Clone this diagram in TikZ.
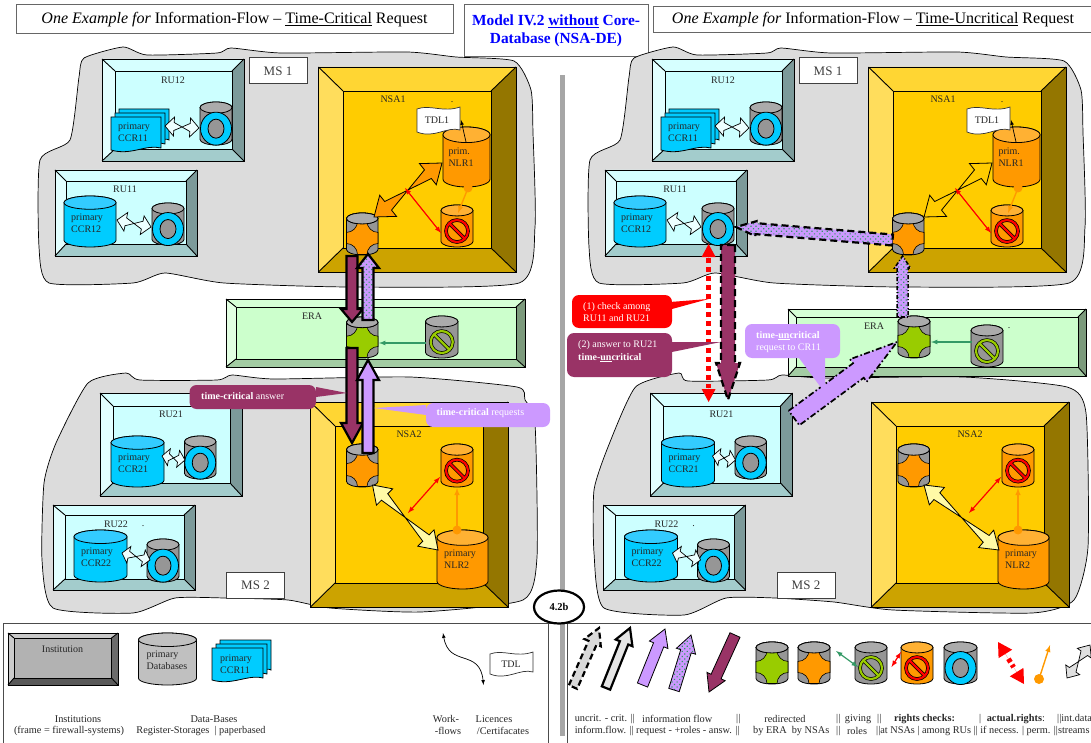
\documentclass[tikz,border=0pt]{standalone}
\usepackage{fontspec}
\setmainfont{Liberation Serif}
\usetikzlibrary{calc,patterns,patterns.meta,shapes.geometric}

\definecolor{ruC}{HTML}{CCFFFF}\definecolor{ruT}{HTML}{D6FFFF}\definecolor{ruL}{HTML}{E2FFFF}
\definecolor{ruR}{HTML}{7C9A9A}\definecolor{ruB}{HTML}{A3CCCC}
\definecolor{nsaC}{HTML}{FFCC00}\definecolor{nsaT}{HTML}{FFD633}\definecolor{nsaL}{HTML}{FFDD5C}
\definecolor{nsaR}{HTML}{947600}\definecolor{nsaB}{HTML}{CCA300}
\definecolor{eraC}{HTML}{CCFFCC}\definecolor{eraT}{HTML}{D6FFD6}\definecolor{eraL}{HTML}{E2FFE2}
\definecolor{eraR}{HTML}{7C9A7C}\definecolor{eraB}{HTML}{A3CCA3}
\definecolor{instC}{HTML}{B2B2B2}\definecolor{instT}{HTML}{C9C9C9}\definecolor{instL}{HTML}{CCCCCC}
\definecolor{instR}{HTML}{6B6B6B}\definecolor{instB}{HTML}{595959}
\definecolor{cylgrey}{HTML}{969696}\definecolor{cyltop}{HTML}{ABABAB}\definecolor{dbgrey}{HTML}{C0C0C0}
\definecolor{ccrblue}{HTML}{00CCFF}\definecolor{ccrtop}{HTML}{33CCFF}
\definecolor{nlrorange}{HTML}{FF9900}\definecolor{nlrtop}{HTML}{FFB133}
\definecolor{eragreen}{HTML}{99CC00}\definecolor{maroon}{HTML}{993366}\definecolor{lilac}{HTML}{CC99FF}
\definecolor{chkgreen}{HTML}{339966}\definecolor{blobgrey}{HTML}{DCDCDC}\definecolor{barsilver}{HTML}{A6A6A6}

\tikzset{
  >=latex,
  blobfill/.style={fill=blobgrey,draw=black,line width=.7pt},
  txtlab/.style={font=\fontsize{10}{11.5}\selectfont,align=left,inner sep=0pt,text=black!85},
  whitetxt/.style={font=\fontsize{10}{12.5}\selectfont,align=left,inner sep=0pt,text=white,anchor=west},
  legtxt/.style={font=\fontsize{10.3}{12}\selectfont,inner sep=0pt,text=black!85,anchor=west},
  msbox/.style={draw=black!75,fill=white,line width=1pt,minimum width=58pt,minimum height=26pt,inner sep=0pt,font=\fontsize{13}{15}\selectfont,text=black!75},
  titlebox/.style={draw=black!60,fill=white,line width=1pt,inner sep=0pt,font=\fontsize{16}{18}\selectfont},
  whitearrow/.style={fill=ruC!35!white,draw=black,line width=.7pt},
  nlrarrow/.style={fill=nlrorange,draw=black,line width=.8pt},
  hollowarrow/.style={fill=nsaC,draw=black,line width=.8pt},
  paleyellow/.style={fill=yellow!35!white,draw=black,line width=.8pt},
  maroonflow/.style={fill=maroon,draw=black,line width=2.2pt},
  lilacflow/.style={fill=lilac,draw=black,line width=2.2pt},
  checkfill/.style={preaction={fill=lilac},pattern={Dots[angle=45,distance=3.6pt,radius=.85pt]},pattern color=chkgreen},
  checkflow/.style={checkfill,draw=black,line width=2.2pt},
  dashblack/.style={line width=2.2pt,draw=black,dash pattern=on 7pt off 4pt},
  dotred/.style={draw=red,line width=5pt,dash pattern=on 5pt off 4pt},
  redtip/.style={fill=red,draw=none},
  rightsred/.style={<->,red,line width=1.2pt},
  rightsgreen/.style={<-,chkgreen,line width=1.2pt},
  permorange/.style={-latex,nlrorange,line width=1.4pt},
}

\newcommand{\bevelframe}[9]{%
  \fill[#1T] (#2,#3) -- (#4,#3) -- (#8,#7) -- (#6,#7) -- cycle;
  \fill[#1L] (#2,#3) -- (#6,#7) -- (#6,#9) -- (#2,#5) -- cycle;
  \fill[#1R] (#4,#3) -- (#8,#7) -- (#8,#9) -- (#4,#5) -- cycle;
  \fill[#1B] (#2,#5) -- (#6,#9) -- (#8,#9) -- (#4,#5) -- cycle;
  \draw[line width=.9pt,fill=#1C] (#6,#7) rectangle (#8,#9);
  \draw[line width=.9pt] (#2,#3) rectangle (#4,#5);
  \draw[line width=.9pt] (#2,#3) -- (#6,#7) (#4,#3) -- (#8,#7) (#2,#5) -- (#6,#9) (#4,#5) -- (#8,#9);
}
\newcommand{\cyltopdisc}[5]{%
  \pgfmathsetmacro{\crx}{(#4-#2)/2}
  \pgfmathsetmacro{\cry}{0.13*(#5-#3)}
  \draw[line width=.8pt,fill=#1] (#2+\crx,#3+\cry) ellipse (\crx pt and \cry pt);
}
\newcommand{\dbcyl}[6]{%
  \pgfmathsetmacro{\crx}{(#5-#3)/2}
  \pgfmathsetmacro{\cry}{0.13*(#6-#4)}
  \draw[line width=.8pt,fill=#1] (#3,#4+\cry) -- (#3,#6-\cry) arc (180:360:\crx pt and \cry pt) -- (#5,#4+\cry) arc (0:180:\crx pt and \cry pt) -- cycle;
  \cyltopdisc{#2}{#3}{#4}{#5}{#6}
}
\newcommand{\routercyl}[5]{%
  \dbcyl{cylgrey}{cyltop}{#2}{#3}{#4}{#5}
  \pgfmathsetmacro{\cyt}{#3+0.2*(#5-#3)}
  \pgfmathsetmacro{\cyb}{#5-.5}
  \draw[line width=.6pt,fill=#1] (#2+11,\cyt) -- (#4-11,\cyt) .. controls (#4-11,\cyt+6) and (#4-6,\cyt+11) .. (#4,\cyt+11) -- (#4,\cyb-11) .. controls (#4-6,\cyb-11) and (#4-11,\cyb-6) .. (#4-11,\cyb) -- (#2+11,\cyb) .. controls (#2+11,\cyb-6) and (#2+6,\cyb-11) .. (#2,\cyb-11) -- (#2,\cyt+11) .. controls (#2+6,\cyt+11) and (#2+11,\cyt+6) .. (#2+11,\cyt) -- cycle;
  \cyltopdisc{cyltop}{#2}{#3}{#4}{#5}
}
\newcommand{\ringcyl}[4]{%
  \dbcyl{cylgrey}{cyltop}{#1}{#2}{#3}{#4}
  \pgfmathsetmacro{\cym}{#2+0.62*(#4-#2)}
  \pgfmathsetmacro{\ccx}{(#1+#3)/2}
  \draw[line width=.8pt,fill=ccrblue] (\ccx,\cym) ellipse (15.5pt and 16.5pt);
  \draw[line width=.8pt,fill=cylgrey] (\ccx,\cym) ellipse (8pt and 9.5pt);
}
\newcommand{\stopcyl}[7]{%
  \dbcyl{#2}{#3}{#4}{#5}{#6}{#7}
  \pgfmathsetmacro{\cym}{#5+0.62*(#7-#5)}
  \pgfmathsetmacro{\ccx}{(#4+#6)/2}
  \draw[black,line width=3.6pt] (\ccx,\cym) circle (11pt) (\ccx-8,\cym-8) -- (\ccx+8,\cym+8);
  \draw[#1,line width=2.2pt] (\ccx,\cym) circle (11pt) (\ccx-8,\cym-8) -- (\ccx+8,\cym+8);
}
\newcommand{\ccrpage}[4]{%
  \pgfmathsetmacro{\tw}{#3-#1}
  \draw[line width=.8pt,fill=ccrblue] (#1,#2) -- (#3,#2) -- (#3,#4-5) .. controls (#1+.7*\tw,#4-9) and (#1+.4*\tw,#4+3) .. (#1,#4-3) -- cycle;
}
\newcommand{\ccrstack}[4]{%
  \ccrpage{#1+8}{#2-8}{#3+8}{#4-8}
  \ccrpage{#1+4}{#2-4}{#3+4}{#4-4}
  \ccrpage{#1}{#2}{#3}{#4}
}
\newcommand{\tdlflag}[4]{%
  \pgfmathsetmacro{\tw}{#3-#1}
  \draw[draw=black!80,line width=.7pt,fill=white] (#1,#2+3) .. controls (#1+.3*\tw,#2-2) and (#1+.6*\tw,#2+7) .. (#3,#2+1) -- (#3,#4-5) .. controls (#3-.3*\tw,#4-9) and (#3-.6*\tw,#4+4) .. (#1,#4-3) -- cycle;
}
\newcommand{\flowarrow}[6][]{%
  \path (#2) coordinate (fa-s) (#3) coordinate (fa-t) ($(fa-t)!#6pt!(fa-s)$) coordinate (fa-h);
  \draw[#1] ($(fa-s)!#4pt!90:(fa-t)$) -- ($(fa-h)!#4pt!90:(fa-t)$) -- ($(fa-h)!#5pt!90:(fa-t)$) -- (fa-t) -- ($(fa-h)!#5pt!-90:(fa-t)$) -- ($(fa-h)!#4pt!-90:(fa-t)$) -- ($(fa-s)!#4pt!-90:(fa-t)$) -- cycle;
}
\newcommand{\bothflowarrow}[6][]{%
  \path (#2) coordinate (fa-s) (#3) coordinate (fa-t) ($(fa-t)!#6pt!(fa-s)$) coordinate (fa-h) ($(fa-s)!#6pt!(fa-t)$) coordinate (fa-k);
  \draw[#1] (fa-s) -- ($(fa-k)!#5pt!-90:(fa-t)$) -- ($(fa-k)!#4pt!-90:(fa-t)$) -- ($(fa-h)!#4pt!90:(fa-t)$) -- ($(fa-h)!#5pt!90:(fa-t)$) -- (fa-t) -- ($(fa-h)!#5pt!-90:(fa-t)$) -- ($(fa-h)!#4pt!-90:(fa-t)$) -- ($(fa-k)!#4pt!90:(fa-t)$) -- ($(fa-k)!#5pt!90:(fa-t)$) -- cycle;
}
\newcommand{\calloutbox}[8]{%
  \fill[#1,rounded corners=7pt] (#2,#3) rectangle (#4,#5);
  \fill[#1] (#6) -- (#8) -- (#7) -- cycle;
}

% upper member state: style of NSA arrow, x of the router
\newcommand{\msonepanel}[2]{%
  \draw[blobfill] plot[smooth cycle,tension=.35] coordinates {(39,247) (40,160) (70,140) (79,77) (84,58) (123,47) (147,55) (217,53) (231,48) (281,53) (407,52) (456,57) (514,61) (531,90) (533,133) (535,227) (519,283) (351,287) (224,283) (165,273) (133,283) (49,283)};
  \bevelframe{ru}{102}{59}{244}{161}{115}{71}{232}{149}
  \node[txtlab] (runame12) at (173,80) {RU12};
  \ccrstack{111}{117}{161}{153}
  \node[txtlab] (ccr11) at (134,132) {primary\\CCR11};
  \ringcyl{200}{102}{232}{145}
  \coordinate (ccr11r) at (165,126);
  \coordinate (ring12l) at (199,128);
  \bothflowarrow[whitearrow]{ccr11r}{ring12l}{4}{9.5}{9}
  \node[msbox] (ms1) at (278,71) {MS 1};
  \bevelframe{ru}{55}{170}{197}{256}{66}{181}{186}{244}
  \node[txtlab] (runame11) at (125,189) {RU11};
  \dbcyl{ccrblue}{ccrtop}{64}{196}{116}{247}
  \node[txtlab] (ccr12) at (87,223) {primary\\CCR12};
  \ringcyl{152}{203}{184}{245}
  \coordinate (ccr12r) at (117,220);
  \coordinate (ring11l) at (151,227);
  \bothflowarrow[whitearrow]{ccr12r}{ring11l}{4}{9.5}{9}
  \bevelframe{nsa}{318.5}{67}{516}{272}{343}{91}{491}{248}
  \node[txtlab] (nsa1) at (393,99) {NSA1};
  \dbcyl{nlrorange}{nlrtop}{443}{127}{490}{187}
  \node[txtlab] (nlr1) at (461,157) {prim.\\NLR1};
  \tdlflag{417}{106}{460}{135}
  \node[txtlab] (tdl1) at (437,120) {TDL1};
  \node[txtlab] (tdldot) at (452,102) {.};
  \coordinate (nlr1t) at (466,142);
  \coordinate (tdl1b) at (461,120);
  \draw[->,line width=.7pt] (nlr1t) -- (tdl1b);
  \routercyl{nlrorange}{#2}{213}{#2+31.5}{255}
  \stopcyl{red}{nlrorange}{nlrtop}{441}{205}{473}{247}
  \coordinate (nlr1l) at (442,163);
  \coordinate (rout1r) at (374,217);
  \bothflowarrow[#1]{rout1r}{nlr1l}{5.5}{13.5}{18}
  \coordinate (rightsa) at (405,188);
  \coordinate (rightsb) at (441,233);
  \draw[rightsred] (rightsa) -- (rightsb);
  \coordinate (permda) at (468,188);
  \coordinate (permdb) at (458,213);
  \fill[nlrorange] (permda) circle (4.5pt);
  \draw[permorange] (permda) -- (permdb);
}
% the two RUs of the lower member state
\newcommand{\rutwopanel}{%
  \bevelframe{ru}{100}{393}{242}{496}{113}{406}{230}{483}
  \node[txtlab] (runame21) at (171,414) {RU21};
  \dbcyl{ccrblue}{ccrtop}{111}{436}{164}{487}
  \node[txtlab] (ccr21) at (134,463) {primary\\CCR21};
  \ringcyl{184.5}{436}{216}{479}
  \coordinate (ccr21r) at (162,456);
  \coordinate (ring21l) at (185,460);
  \bothflowarrow[whitearrow]{ccr21r}{ring21l}{3.5}{8.5}{7}
  \bevelframe{ru}{53}{505}{195}{590}{65}{515}{184}{579}
  \node[txtlab] (runame22) at (116,524) {RU22};
  \node[txtlab] (rudot) at (143,526) {.};
  \dbcyl{ccrblue}{ccrtop}{74}{530}{127}{582}
  \node[txtlab] (ccr22) at (97,557) {primary\\CCR22};
  \ringcyl{147}{539}{179}{582}
  \coordinate (ccr22r) at (122,553);
  \coordinate (ring22l) at (150,560);
  \bothflowarrow[whitearrow]{ccr22r}{ring22l}{3.5}{8.5}{7}
  \node[msbox] (ms2) at (255.5,585.5) {MS 2};
}
% NSA2: x of the router
\newcommand{\nsatwopanel}[1]{%
  \bevelframe{nsa}{310.5}{402}{508}{607}{335}{426}{483}{583}
  \node[txtlab] (nsa2) at (409,434) {NSA2};
  \routercyl{nlrorange}{#1}{444}{#1+31.5}{487}
  \stopcyl{red}{nlrorange}{nlrtop}{441}{444}{473}{487}
  \dbcyl{nlrorange}{nlrtop}{437}{530}{488}{589}
  \node[txtlab] (nlr2) at (460,559) {primary\\NLR2};
  \coordinate (rout2r) at (#1+26,485);
  \coordinate (nlr2l) at (438,550);
  \bothflowarrow[paleyellow]{rout2r}{nlr2l}{4.5}{11.5}{17}
  \coordinate (rights2a) at (440,477);
  \coordinate (rights2b) at (408,513);
  \draw[rightsred] (rights2a) -- (rights2b);
  \coordinate (perm2a) at (457,530);
  \coordinate (perm2b) at (457,488);
  \fill[nlrorange] (perm2a) circle (4.5pt);
  \draw[permorange] (perm2a) -- (perm2b);
}

\begin{document}
\begin{tikzpicture}[x=1pt,y=-1pt]
  \useasboundingbox (0,0) rectangle (1091,743);

  % titles
  \node[titlebox,minimum width=437pt,minimum height=29pt] (titleleft) at (234.5,19.5) {\textit{One Example for} Information-Flow -- \underline{Time-Critical} Request};
  \node[titlebox,minimum width=184pt,minimum height=52pt,align=center,text=blue,font=\bfseries\fontsize{15.4}{18}\selectfont] (titlemid) at (556,31) {Model IV.2 \underline{without} Core-\\Database (NSA-DE)};
  \node[titlebox,minimum width=440pt,minimum height=26pt] (titleright) at (873,20) {\textit{One Example for} Information-Flow -- \underline{Time-Uncritical} Request};

  % divider, legend frame
  \draw[black!70,line width=.8pt] (3,743) -- (3,623) -- (1091,623);
  \draw[black!70,line width=.8pt] (548,623) -- (548,743);
  \draw[black!70,line width=.8pt] (567.6,623) -- (567.6,743);
  \fill[barsilver] (559.6,75) rectangle (565,736);

  % left panel
  \msonepanel{nlrarrow}{346.5}
  \draw[blobfill] plot[smooth cycle,tension=.35] coordinates {(88,383) (126,373) (140,380) (217,380) (232,375) (274,379) (410,377) (517,387) (525,400) (535,423) (537,557) (523,600) (421,612) (330,608) (288,600) (225,598) (175,598) (133,613) (53,608) (42,560) (44,483) (56,443)};
  \rutwopanel
  \nsatwopanel{346.5}
  \bevelframe{era}{226}{299}{525}{367}{236}{307}{516}{359}
  \node[txtlab] (era) at (312,316) {ERA};
  \routercyl{eragreen}{346.5}{317}{378}{358}
  \stopcyl{eragreen}{cylgrey}{cyltop}{425.5}{316}{458}{358}
  \coordinate (erastopl) at (426,343);
  \coordinate (erarouter) at (379,343);
  \draw[rightsgreen] (erarouter) -- (erastopl);

  \coordinate (ans1a) at (352,256);
  \coordinate (ans1b) at (352,322);
  \flowarrow[maroonflow]{ans1a}{ans1b}{5.5}{11}{13}
  \coordinate (req1a) at (368,320);
  \coordinate (req1b) at (368,254);
  \flowarrow[checkflow]{req1a}{req1b}{5.5}{11}{14}
  \coordinate (ans2a) at (352,348);
  \coordinate (ans2b) at (352,443);
  \flowarrow[maroonflow]{ans2a}{ans2b}{5.5}{11}{20}
  \coordinate (req2a) at (368,453);
  \coordinate (req2b) at (368,360);
  \flowarrow[lilacflow]{req2a}{req2b}{5.5}{11}{20}

  \calloutbox{maroon}{189.5}{385}{316}{409}{316,387}{316,397}{347,393}
  \node[whitetxt] (critanswer) at (201,396) {\textbf{time-critical} answer};
  \calloutbox{lilac}{426}{403}{550}{427}{426,405}{426,415}{374,408}
  \node[whitetxt] (critrequest) at (436.5,413) {\textbf{time-critical} requests};

  % right panel
  \begin{scope}[xshift=550pt,name prefix=r-]
    \msonepanel{hollowarrow}{342.5}
  \end{scope}
  \draw[blobfill] plot[smooth cycle,tension=.35] coordinates {(635.5,387) (679,373) (688,381) (768,380) (782,375) (823.5,378) (963,377) (1067,387) (1086,413) (1088,547) (1074,600) (1032,613) (893,610) (834,602) (775,598) (726,598) (684,615) (604,608) (594,553) (594,490) (608,447)};
  \begin{scope}[xshift=550.5pt,name prefix=q-]
    \rutwopanel
  \end{scope}
  \begin{scope}[xshift=561pt,name prefix=p-]
    \nsatwopanel{337}
  \end{scope}
  \bevelframe{era}{788}{309}{1086}{376}{796}{317}{1078}{367}
  \node[txtlab] (era2) at (874,326) {ERA};
  \node[txtlab] (eradot) at (1009,328) {.};
  \routercyl{eragreen}{898}{316}{930}{358}
  \stopcyl{eragreen}{cylgrey}{cyltop}{971}{325}{1003}{367}
  \coordinate (erastopr) at (971.5,342);
  \coordinate (era2router) at (931,342);
  \draw[rightsgreen] (era2router) -- (erastopr);

  \coordinate (hora) at (892.5,240);
  \coordinate (horb) at (736,227);
  \flowarrow[checkfill,draw=none]{hora}{horb}{5.5}{7.5}{20}
  \flowarrow[dashblack]{hora}{horb}{5.5}{7.5}{20}
  \coordinate (vera) at (902.6,317);
  \coordinate (verb) at (902.6,256);
  \flowarrow[checkfill,draw=none]{vera}{verb}{5.5}{8}{12}
  \flowarrow[dashblack,dash pattern=on 4pt off 2pt on 1pt off 2pt,line width=1.6pt]{vera}{verb}{5.5}{8}{12}

  \coordinate (checka) at (708.6,258);
  \coordinate (checkb) at (708.6,388);
  \draw[dotred] (checka) -- (checkb);
  \coordinate (checkta) at (708.6,244);
  \coordinate (checktb) at (708.6,402);
  \flowarrow[redtip]{checka}{checkta}{0}{7}{13}
  \flowarrow[redtip]{checkb}{checktb}{0}{7}{13}
  \coordinate (answa) at (728,245);
  \coordinate (answb) at (728,400);
  \flowarrow[fill=maroon,draw=none]{answa}{answb}{7}{12}{37}
  \flowarrow[dashblack]{answa}{answb}{7}{12}{37}
  \coordinate (tcra) at (794,418);
  \coordinate (tcrb) at (897,342);
  \flowarrow[fill=lilac,draw=none]{tcra}{tcrb}{9}{14}{48}
  \flowarrow[dashblack,dash pattern=on 6pt off 2.5pt on 1.5pt off 2.5pt,line width=1.7pt]{tcra}{tcrb}{9}{14}{48}

  \calloutbox{red}{572}{295}{672}{328}{670,302}{672,309}{708.6,299}
  \node[whitetxt] (checkamong) at (583,312) {(1) check among\\RU11 and RU21};
  \calloutbox{maroon}{567}{333}{672}{377}{670,342}{672,352}{721,342}
  \node[whitetxt] (answerru) at (578,351.5) {(2) answer to RU21\\\textbf{time-\underline{un}critical}};
  \calloutbox{lilac}{745}{324}{840}{358}{799,358}{825,358}{825,393}
  \node[whitetxt] (uncritreq) at (756,342) {\textbf{time-\underline{un}critical}\\request to CR11};

  % legend
  \bevelframe{inst}{8}{633}{118}{685}{14}{638}{111.5}{678}
  \node[txtlab] (instname) at (62.5,649) {Institution};
  \dbcyl{dbgrey}{dbgrey}{138.5}{633}{196.5}{685}
  \node[txtlab] (dbname) at (167,660) {primary\\Databases};
  \ccrstack{212}{648}{263}{683}
  \node[txtlab] (ccrname) at (236,664) {primary\\CCR11};
  \coordinate (flowa) at (443,633);
  \coordinate (flowb) at (483.5,685);
  \draw[<->,line width=.7pt] (flowa) .. controls (449,668) and (480,648) .. (flowb);
  \tdlflag{490}{651}{533}{677}
  \node[txtlab] (tdlname) at (511,664) {TDL};

  \node[legtxt,anchor=center] (ltinst) at (78,719) {Institutions};
  \node[legtxt,anchor=center] (ltframe) at (69,731) {(frame = firewall-systems)};
  \node[legtxt,anchor=center] (ltdata) at (214,719) {Data-Bases};
  \node[legtxt,anchor=center] (ltreg) at (201,731) {Register-Storages~~| paperbased};
  \node[legtxt,anchor=center] (ltwork) at (446,719) {Work-};
  \node[legtxt,anchor=center] (ltflows) at (448,731) {-flows};
  \node[legtxt,anchor=center] (ltlic) at (494,719) {Licences};
  \node[legtxt,anchor=center] (ltcert) at (503,731) {/Certifacates};

  \coordinate (leg1a) at (573,687);
  \coordinate (leg1b) at (599,628);
  \flowarrow[fill=black!15,draw=none]{leg1a}{leg1b}{4.5}{9}{16}
  \flowarrow[dashblack,dash pattern=on 6pt off 3.5pt]{leg1a}{leg1b}{4.5}{9}{16}
  \coordinate (leg2a) at (606,688);
  \coordinate (leg2b) at (630,628);
  \flowarrow[fill=black!10,draw=black,line width=2.2pt]{leg2a}{leg2b}{4.5}{9}{16}
  \coordinate (leg3a) at (642.5,685);
  \coordinate (leg3b) at (665,629);
  \flowarrow[fill=lilac,draw=black,line width=.8pt]{leg3a}{leg3b}{5.5}{10}{17}
  \coordinate (leg4a) at (674,690);
  \coordinate (leg4b) at (691,635);
  \flowarrow[checkflow,line width=.8pt]{leg4a}{leg4b}{5.5}{10}{17}
  \coordinate (leg5a) at (735,635);
  \coordinate (leg5b) at (709,692);
  \flowarrow[fill=maroon,draw=black,line width=.8pt]{leg5a}{leg5b}{5.5}{10}{17}

  \routercyl{eragreen}{756}{642}{788}{684}
  \routercyl{nlrorange}{798}{642}{830}{684}
  \stopcyl{eragreen}{cylgrey}{cyltop}{855}{642}{887}{684}
  \stopcyl{red}{nlrorange}{nlrtop}{901}{642}{933}{684}
  \ringcyl{944}{642}{977}{684}
  \coordinate (leggra) at (836,651);
  \coordinate (leggrb) at (858,667);
  \draw[<->,chkgreen,line width=1.2pt] (leggra) -- (leggrb);
  \coordinate (legrda) at (901,652);
  \coordinate (legrdb) at (891.5,667);
  \draw[rightsred] (legrda) -- (legrdb);
  \coordinate (legda) at (998,642);
  \coordinate (legdb) at (1024,684);
  \coordinate (legdc) at ($(legda)!.4!(legdb)$);
  \coordinate (legdd) at ($(legda)!.6!(legdb)$);
  \draw[dotred,dash pattern=on 4pt off 3pt] (legdc) -- (legdd);
  \flowarrow[redtip]{legdc}{legda}{0}{8}{14}
  \flowarrow[redtip]{legdd}{legdb}{0}{8}{14}
  \coordinate (legoa) at (1039,679);
  \coordinate (legob) at (1050,645);
  \fill[nlrorange] (legoa) circle (5pt);
  \draw[permorange] (legoa) -- (legob);
  \coordinate (leggya) at (1067,678);
  \coordinate (leggyb) at (1090,645);
  \bothflowarrow[fill=black!12,draw=black,line width=.7pt]{leggya}{leggyb}{4}{8.5}{10}

  \node[legtxt] (lra1) at (574.6,719) {uncrit. - crit. ||};
  \node[legtxt] (lra2) at (642,719) {information flow};
  \node[legtxt] (lra3) at (736,719) {||};
  \node[legtxt,anchor=center] (lra4) at (785,719) {redirected};
  \node[legtxt] (lra5) at (836,719) {||};
  \node[legtxt,anchor=center] (lra6) at (858,719) {giving};
  \node[legtxt] (lra7) at (877,719) {||};
  \node[legtxt,anchor=center] (lra8) at (924.5,719) {\textbf{rights checks:}};
  \node[legtxt] (lra9) at (979,719) {|};
  \node[legtxt] (lra10) at (986.6,719) {\textbf{actual.rights}:};
  \node[legtxt] (lra11) at (1057,719) {||int.data};
  \node[legtxt] (lrb1) at (574.6,731) {inform.flow. ||};
  \node[legtxt] (lrb2) at (636,731) {request - +roles - answ. ||};
  \node[legtxt] (lrb3) at (753,731) {by ERA~~by NSAs};
  \node[legtxt] (lrb4) at (836,731) {||};
  \node[legtxt,anchor=center] (lrb5) at (857,731) {roles};
  \node[legtxt] (lrb6) at (876,731) {||at NSAs | among RUs || if necess. | perm. ||streams};

  \node[draw,fill=white,line width=2.2pt,ellipse,minimum width=50pt,minimum height=33pt,inner sep=0pt,font=\bfseries\fontsize{10.5}{12}\selectfont] (pagemark) at (559,607) {4.2b};
\end{tikzpicture}
\end{document}
